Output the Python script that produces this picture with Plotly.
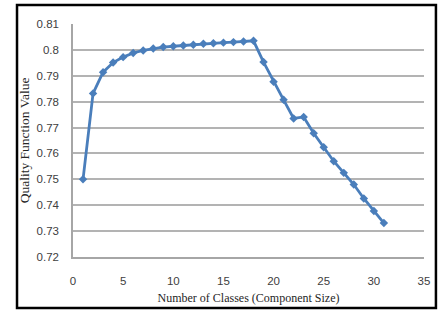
import plotly.graph_objects as go

classes = list(range(1, 32))
quality = [0.7500, 0.7832, 0.7914, 0.7951, 0.7972, 0.7988, 0.7998, 0.8005, 0.8011, 0.8014,
           0.8017, 0.8020, 0.8024, 0.8026, 0.8028, 0.8030, 0.8032, 0.8035, 0.7953, 0.7877,
           0.7807, 0.7735, 0.7741, 0.7678, 0.7624, 0.7570, 0.7525, 0.7480, 0.7426, 0.7378,
           0.7331]
y_ticks = [0.72, 0.73, 0.74, 0.75, 0.76, 0.77, 0.78, 0.79, 0.80, 0.81]
y_tick_labels = ["0.72", "0.73", "0.74", "0.75", "0.76", "0.77", "0.78", "0.79", "0.8", "0.81"]
x_ticks = [0, 5, 10, 15, 20, 25, 30, 35]

fig = go.Figure()
fig.add_trace(go.Scatter(
    x=classes, y=quality, mode="lines+markers",
    line=dict(color="#4a7ebb", width=2.8),
    marker=dict(symbol="diamond", size=6.5, color="#4a7ebb"),
    showlegend=False,
))

fig.update_layout(
    width=440, height=313,
    margin=dict(l=73, r=16, t=24, b=56, autoexpand=False),
    paper_bgcolor="white", plot_bgcolor="white",
    xaxis=dict(
        range=[0, 35], tickvals=x_ticks, showgrid=False, zeroline=False,
        showline=True, linecolor="#a6a6a6", linewidth=1.5,
        ticks="", ticklabelstandoff=12,
        tickfont=dict(family="Liberation Sans, Arial", size=11.5, color="#404040"),
        title=dict(text="Number of Classes (Component Size)", standoff=8,
                   font=dict(family="Liberation Serif, Times New Roman", size=12, color="#262626")),
    ),
    yaxis=dict(
        range=[0.72, 0.81], tickvals=y_ticks, ticktext=y_tick_labels,
        showgrid=True, gridcolor="#b3b3b3", gridwidth=1.5, zeroline=False,
        showline=True, linecolor="#a6a6a6", linewidth=1.5,
        ticks="", ticklabelstandoff=10,
        tickfont=dict(family="Liberation Sans, Arial", size=11.5, color="#404040"),
        title=dict(text="Quality Function Value", standoff=4,
                   font=dict(family="Liberation Serif, Times New Roman", size=13.5, color="#262626")),
    ),
    shapes=[dict(type="rect", xref="paper", yref="paper",
                 x0=-0.1595, x1=1.034, y0=-0.219, y1=1.0815,
                 line=dict(color="black", width=2.5), layer="below")],
)

fig.write_html("out.html", config={"displayModeBar": False},
               post_script="document.body.style.margin='0';document.body.style.padding='0';")
